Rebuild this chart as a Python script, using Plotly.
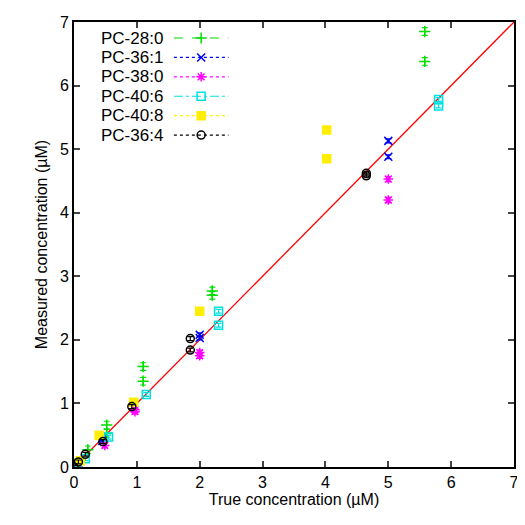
import plotly.graph_objects as go

names = ['PC-28:0', 'PC-36:1', 'PC-38:0', 'PC-40:6', 'PC-40:8', 'PC-36:4']
colors = ['#00dd00', '#0000ee', '#ff00ff', '#00e0e0', '#ffee00', '#000000']
symbols = ['cross-thin', 'x-thin', 'asterisk', 'square-open', 'square', 'circle-open']
dashes = ['dash', 'dot', 'dot', 'dashdot', 'dot', 'dot']

true_x = [
    [0.05, 0.22, 0.52, 0.52, 1.1, 1.1, 2.2, 2.2, 5.58, 5.58],
    [0.1, 0.45, 0.45, 2.0, 2.0, 5.0, 5.0],
    [0.08, 0.49, 0.97, 0.97, 2.0, 2.0, 5.0, 5.0],
    [0.05, 0.18, 0.55, 1.15, 2.3, 2.3, 5.8, 5.8],
    [0.1, 0.4, 0.95, 2.0, 4.02, 4.02],
    [0.0, 0.07, 0.18, 0.46, 0.92, 1.85, 1.85, 4.65, 4.65],
]
measured_y = [
    [0.06, 0.27, 0.66, 0.53, 1.58, 1.35, 2.77, 2.7, 6.85, 6.38],
    [0.1, 0.44, 0.41, 2.08, 2.03, 5.13, 4.88],
    [0.05, 0.34, 0.9, 0.87, 1.8, 1.75, 4.53, 4.2],
    [0.04, 0.13, 0.47, 1.14, 2.45, 2.23, 5.78, 5.68],
    [0.1, 0.5, 1.02, 2.45, 5.3, 4.85],
    [0.0, 0.08, 0.2, 0.4, 0.95, 2.02, 1.84, 4.62, 4.58],
]
err = [0.06, 0.03, 0.04, 0.03, 0.03, 0.03]

fig = go.Figure()
fig.add_trace(go.Scatter(x=[0, 7], y=[0, 7], mode='lines', line=dict(color='red', width=1.3), showlegend=False))
for i in range(len(names)):
    fig.add_trace(go.Scatter(
        x=true_x[i], y=measured_y[i], mode='markers', showlegend=False,
        marker=dict(symbol=symbols[i], color=colors[i], size=8,
                    line=dict(color=colors[i], width=1.5)),
        error_y=dict(type='constant', value=err[i], color=colors[i], thickness=1.2, width=3),
    ))

# gnuplot-style legend: text then sample line with marker
for i in range(len(names)):
    yp = 0.964 - i * 0.0436
    fig.add_annotation(x=0.207, y=yp, xref='paper', yref='paper', text=names[i],
                       showarrow=False, xanchor='right', yanchor='middle',
                       font=dict(size=17, color='black'))
    fig.add_shape(type='line', xref='paper', yref='paper', x0=0.227, x1=0.351, y0=yp, y1=yp,
                  line=dict(color=colors[i], width=1.2, dash=dashes[i]))
    fig.add_trace(go.Scatter(x=[0.289], y=[yp], xaxis='x2', yaxis='y2', mode='markers', showlegend=False,
                             marker=dict(symbol=symbols[i], color=colors[i], size=8,
                                         line=dict(color=colors[i], width=1.5))))

ax = dict(range=[0, 7], dtick=1, showline=True, linecolor='black', linewidth=2, mirror='ticks',
          ticks='inside', ticklen=6, tickwidth=2, showgrid=False, zeroline=False,
          tickfont=dict(size=16, color='black'))
fig.update_layout(
    width=517, height=517, plot_bgcolor='white', paper_bgcolor='white',
    font=dict(family='Liberation Sans, Arial', color='black'),
    margin=dict(l=66, r=6, t=12, b=58),
    xaxis=dict(ax, title=dict(text='True concentration (µM)', font=dict(size=16), standoff=4)),
    yaxis=dict(ax, title=dict(text='Measured concentration (µM)', font=dict(size=16), standoff=8)),
    xaxis2=dict(range=[0, 1], overlaying='x', visible=False),
    yaxis2=dict(range=[0, 1], overlaying='y', visible=False),
)
fig.write_html('out.html')
